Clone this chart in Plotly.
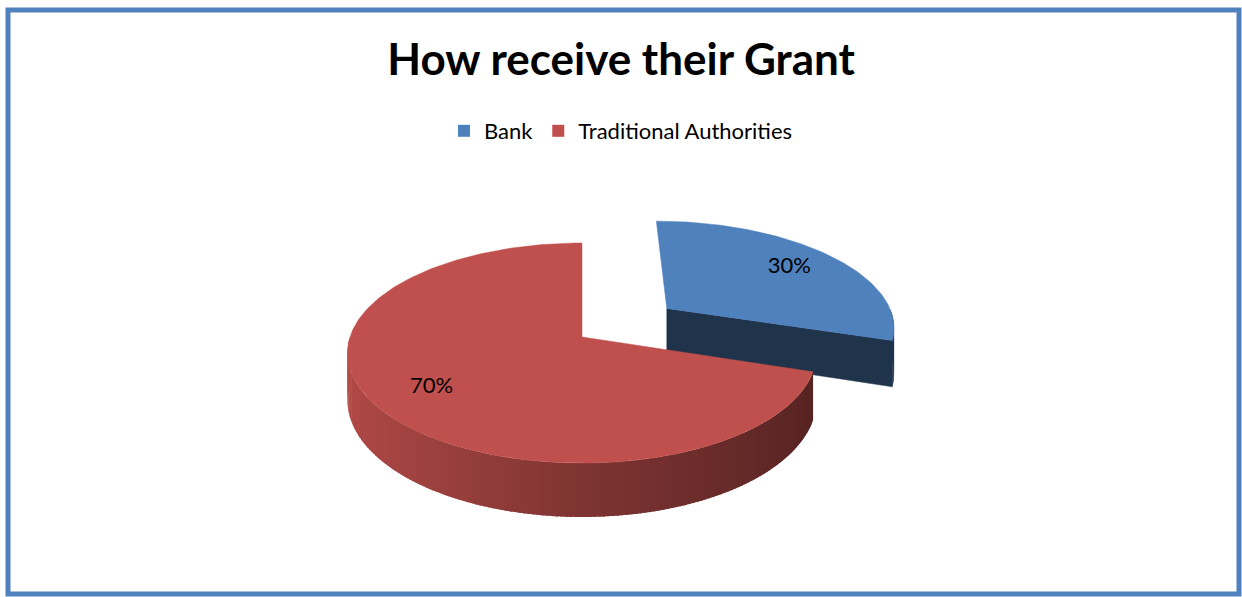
import math
import plotly.graph_objects as go

# --- data -------------------------------------------------------------
labels = ["Bank", "Traditional Authorities"]
values = [30, 70]
explode = [0.47, 0.0]
top_colors = ["#4f81bd", "#c0504d"]

TITLE = "How receive their Grant"
W, H = 1242, 597

# --- 3D pie geometry (pixel space) -------------------------------------
CX, CY = 582, 337          # apex of the pie on screen
RX, RY = 232, 107.7        # horizontal / vertical radius
K = 0.146                  # perspective strength
DEPTH = 46                 # thickness of the pie
STEP = 1.0                 # degrees per wall segment
LABEL_R = 0.75


def project(u, v, h=0.0):
    s = 1.0 / (1.0 + K * v)
    return CX + RX * u * s, CY - RY * v * s + DEPTH * h * s


def hex_rgb(c):
    c = c.lstrip("#")
    return tuple(int(c[i:i + 2], 16) for i in (0, 2, 4))


def shade(c, f):
    r, g, b = hex_rgb(c)
    return "rgb(%d,%d,%d)" % (r * f, g * f, b * f)


def wall_factor(theta):
    # lighter on the left, darker toward the right
    s = math.sin(math.radians(theta))
    if s <= 0:
        return 0.66 + (0.93 - 0.66) * (-s)
    return 0.66 - (0.66 - 0.44) * s


def arc(a0, a1, ou, ov, h):
    n = max(2, int(abs(a1 - a0) / STEP) + 1)
    pts = []
    for i in range(n):
        a = math.radians(a0 + (a1 - a0) * i / (n - 1))
        pts.append(project(ou + math.sin(a), ov + math.cos(a), h))
    return pts


fig = go.Figure()


def poly(pts, color, lw=0.0):
    xs = [p[0] for p in pts] + [pts[0][0]]
    ys = [p[1] for p in pts] + [pts[0][1]]
    fig.add_trace(go.Scatter(
        x=xs, y=ys, mode="lines", fill="toself", fillcolor=color,
        line=dict(color=color, width=lw), hoverinfo="skip", showlegend=False))


total = sum(values)
angles = []
acc = 0.0
for v in values:
    a0 = acc / total * 360.0
    acc += v
    angles.append((a0, acc / total * 360.0))

label_pos = []
slices = []
for i, (a0, a1) in enumerate(angles):
    mid = math.radians((a0 + a1) / 2)
    ou, ov = explode[i] * math.sin(mid), explode[i] * math.cos(mid)
    slices.append((i, a0, a1, ou, ov))
    lu = ou + LABEL_R * math.sin(mid)
    lv = ov + LABEL_R * math.cos(mid)
    label_pos.append(project(lu, lv))

# back slices first (the exploded one sits further back)
slices.sort(key=lambda s: -s[4])

for i, a0, a1, ou, ov in slices:
    base = top_colors[i]
    # radial faces turned toward the viewer
    for ang, sign in ((a0, -1), (a1, 1)):
        na = math.radians(ang + sign * 90)
        if math.cos(na) < -1e-6:
            r = math.radians(ang)
            c_top = project(ou, ov, 0)
            r_top = project(ou + math.sin(r), ov + math.cos(r), 0)
            r_bot = project(ou + math.sin(r), ov + math.cos(r), 1)
            c_bot = project(ou, ov, 1)
            poly([c_top, r_top, r_bot, c_bot], shade(base, 0.40), 0.5)
    # outer wall on the front half, drawn as slightly overlapping strips
    lo, hi = max(a0, 90.0), min(a1, 270.0)
    if hi > lo:
        n = max(2, int((hi - lo) / STEP) + 1)
        for k in range(n - 1):
            t0 = lo + (hi - lo) * k / (n - 1)
            t1 = lo + (hi - lo) * (k + 1) / (n - 1)
            t1e = min(hi, t1 + 0.7)
            p = arc(t0, t1e, ou, ov, 0)
            q = arc(t1e, t0, ou, ov, 1)
            if i == 0:
                col = shade(base, 0.40)
            else:
                col = shade(base, wall_factor((t0 + t1) / 2))
            poly([p[0], p[-1], q[0], q[-1]], col)
    # top face
    top = [project(ou, ov, 0)] + arc(a0, a1, ou, ov, 0)
    poly(top, base, 0.5)

# percentage labels
fig.add_trace(go.Scatter(
    x=[p[0] for p in label_pos], y=[p[1] for p in label_pos],
    mode="text", text=["%d%%" % v for v in values],
    textfont=dict(family="Lato", size=22, color="#000000"),
    hoverinfo="skip", showlegend=False))

# legend entries
for lab, col in zip(labels, top_colors):
    fig.add_trace(go.Scatter(
        x=[None], y=[None], mode="markers", name=lab,
        marker=dict(symbol="square", size=12, color=col)))

fig.add_shape(type="rect", xref="x", yref="y", x0=8, y0=10, x1=1239, y1=594,
              line=dict(color="#4f81bd", width=5), fillcolor="rgba(0,0,0,0)",
              layer="below")

fig.update_layout(
    width=W, height=H,
    margin=dict(l=0, r=0, t=0, b=0),
    paper_bgcolor="white", plot_bgcolor="white",
    title=dict(text="<b>%s</b>" % TITLE, x=0.5, xanchor="center",
               y=1 - 60 / H, yanchor="middle",
               font=dict(family="Lato", size=44, color="#000000")),
    legend=dict(orientation="h", x=0.5, xanchor="center",
                y=1 - 131 / H, yanchor="middle",
                font=dict(family="Lato", size=22, color="#000000"),
                itemwidth=30, tracegroupgap=0),
    xaxis=dict(range=[0, W], visible=False, fixedrange=True),
    yaxis=dict(range=[H, 0], visible=False, fixedrange=True),
    showlegend=True,
)

fig.write_html("out.html")
